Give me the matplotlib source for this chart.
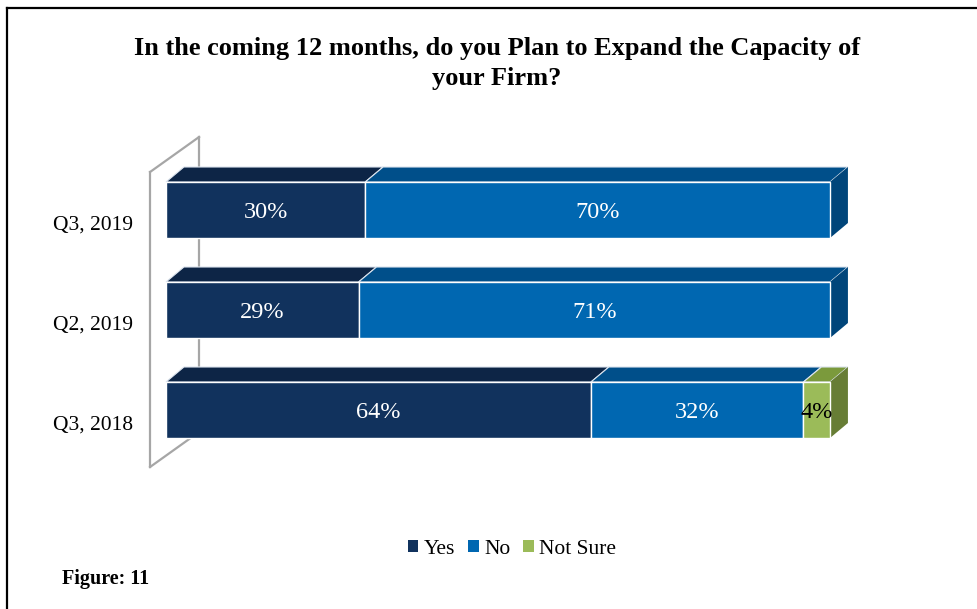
import matplotlib
matplotlib.use("Agg")
import matplotlib.pyplot as plt
from matplotlib.patches import Polygon, Patch
from matplotlib.lines import Line2D
from matplotlib.transforms import ScaledTranslation

plt.rcParams["font.family"] = ["Liberation Serif", "DejaVu Serif"]

# data (bottom to top)
periods = ["Q3, 2018", "Q2, 2019", "Q3, 2019"]
series = ["Yes", "No", "Not Sure"]
yes = [64, 29, 30]
no = [32, 71, 70]
not_sure = [4, 0, 0]

front_cols = ["#11325d", "#0067b1", "#9bbb59"]
top_cols = ["#0d2546", "#004f8a", "#7b9a3c"]
side_cols = ["#0b1f3b", "#00457a", "#677d35"]
label_cols = ["white", "white", "black"]

DX, DY = 2.7, 0.15   # 3d depth in data units
H = 0.56

fig = plt.figure(figsize=(9.77, 6.09), dpi=100)
ax = fig.add_axes([166 / 977, (609 - 470) / 609, 664 / 977, 320 / 609])
ax.set_xlim(0, 100)
ax.set_ylim(-0.6, 2.6)
for s in ax.spines.values():
    s.set_visible(False)
ax.set_xticks([])

# side wall of the 3d chart
wx0, wx1 = -2.4, 4.98
wy0, wy1, wd = -0.57, 2.38, 0.35
wall = [([wx0, wx0], [wy0, wy1]), ([wx0, wx1], [wy1, wy1 + wd]),
        ([wx1, wx1], [wy1 + wd, wy0 + wd]), ([wx0, wx1], [wy0, wy0 + wd])]
for xs, ys in wall:
    ax.plot(xs, ys, color="#a6a6a6", lw=1.6, clip_on=False, zorder=1)

values = [yes, no, not_sure]
for i, y in enumerate(range(len(periods))):
    left = 0
    segs = [(k, values[k][i]) for k in range(3) if values[k][i] > 0]
    for j, (k, v) in enumerate(segs):
        ax.barh(y, v, left=left, height=H, color=front_cols[k],
                edgecolor="white", lw=1.0, zorder=3, clip_on=False)
        top = [(left, y + H / 2), (left + v, y + H / 2),
               (left + v + DX, y + H / 2 + DY), (left + DX, y + H / 2 + DY)]
        ax.add_patch(Polygon(top, closed=True, facecolor=top_cols[k],
                             edgecolor="#dce4ee", lw=0.8, zorder=2, clip_on=False))
        if j == len(segs) - 1:
            side = [(left + v, y - H / 2), (left + v, y + H / 2),
                    (left + v + DX, y + H / 2 + DY), (left + v + DX, y - H / 2 + DY)]
            ax.add_patch(Polygon(side, closed=True, facecolor=side_cols[k],
                                 edgecolor="none", zorder=2, clip_on=False))
        ax.text(left + v / 2, y - 0.03, f"{v}%", ha="center", va="center",
                color=label_cols[k], fontsize=17.5, zorder=4)
        left += v

ax.set_yticks(range(len(periods)), periods)
ax.tick_params(axis="y", length=0, pad=24, labelsize=15.5)
shift = ScaledTranslation(0, -0.13, fig.dpi_scale_trans)
for lab in ax.get_yticklabels():
    lab.set_transform(lab.get_transform() + shift)

fig.text(497 / 977, 1 - 48 / 609,
         "In the coming 12 months, do you Plan to Expand the Capacity of",
         ha="center", va="center", fontsize=19, fontweight="bold")
fig.text(497 / 977, 1 - 78 / 609, "your Firm?",
         ha="center", va="center", fontsize=19, fontweight="bold")

handles = [Patch(facecolor=c, edgecolor="none") for c in front_cols]
fig.legend(handles, series, loc="center", bbox_to_anchor=(512 / 977, 1 - 549 / 609),
           ncol=3, frameon=False, fontsize=15.5, handlelength=0.5, handleheight=0.5,
           handletextpad=0.25, columnspacing=0.6)

fig.text(62 / 977, 1 - 579 / 609, "Figure: 11", ha="left", va="center",
         fontsize=14.5, fontweight="bold")

# page border
fig.add_artist(Line2D([7 / 977, 1], [1 - 8 / 609, 1 - 8 / 609], color="black", lw=1.6))
fig.add_artist(Line2D([7 / 977, 7 / 977], [0, 1 - 8 / 609], color="black", lw=1.6))

fig.savefig("out.png", dpi=100)
